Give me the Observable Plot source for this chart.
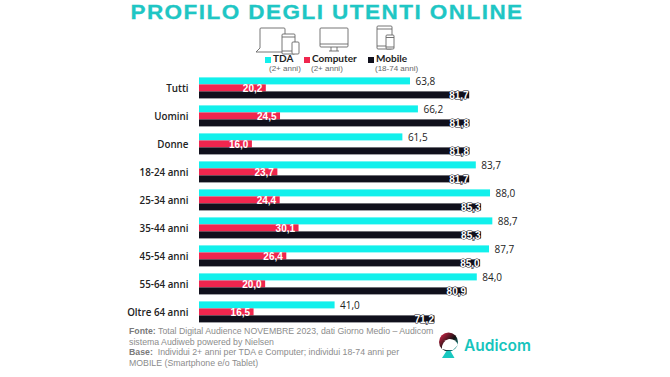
<!DOCTYPE html>
<html><head><meta charset="utf-8">
<script src="https://cdn.jsdelivr.net/npm/d3@7"></script>
<script src="https://cdn.jsdelivr.net/npm/@observablehq/plot@0.6"></script>
<style>
html,body{margin:0;padding:0;background:#fff;width:670px;height:377px;overflow:hidden}
#wrap{position:relative;width:670px;height:377px}
#wrap>*{position:absolute}
#chart{left:0;top:0}
#title{left:0;width:654px;top:1px;text-align:center;font:bold 20.5px/22px "Liberation Sans",sans-serif;letter-spacing:1.3px;color:#1fc6c4;-webkit-text-stroke:.3px #1fc6c4;white-space:nowrap;transform:scaleX(1.1)}
.lg{font:700 10px/8px "Lato",sans-serif;color:#222;white-space:nowrap}
.sw{width:6px;height:6px}
.sub{font:8px/7px "Liberation Sans",sans-serif;color:#666;white-space:nowrap}
#note{left:129px;top:326px;font:8.75px/10.6px "Liberation Sans",sans-serif;color:#8c8c8c;white-space:nowrap}
#note b{color:#7a7a7a}
#logoText{left:464px;top:336px;font:600 15.5px/20px "Inter",sans-serif;color:#16c4bd;white-space:nowrap}
</style></head><body>
<div id="wrap">
<div id="chart"></div>
<div id="title">PROFILO DEGLI UTENTI ONLINE</div>
<svg style="left:250px;top:24px" width="170" height="34" fill="none" stroke="#666" stroke-width=".9">
  <path d="M10 24V5a1 1 0 0 1 1-1h23a1 1 0 0 1 1 1v6M6 28h26M10 24l-4 4"/>
  <rect x="32" y="10" width="13" height="20" rx="1" fill="#fff"/><path d="M32 13h13M32 27h13"/>
  <rect x="42" y="18" width="7" height="12" rx="1" fill="#fff"/>
  <rect x="70" y="4" width="28" height="19" rx="1"/><path d="M70 20h28M81 23v4M87 23v4M79 27h10"/>
  <rect x="127" y="2" width="15" height="23" rx="1"/><path d="M127 5h15M127 22h9"/>
  <rect x="136" y="11" width="8" height="14" rx="1" fill="#fff"/><path d="M136 13.500h8M136 23h8"/>
</svg>
<div class="sw" style="left:265px;top:57px;background:#12f0ec"></div><div class="lg" style="left:273px;top:54px">TDA</div><div class="sub" style="left:269px;top:64.5px">(2+ anni)</div>
<div class="sw" style="left:304px;top:57px;background:#f0264e"></div><div class="lg" style="left:312px;top:54px">Computer</div><div class="sub" style="left:311px;top:64.5px">(2+ anni)</div>
<div class="sw" style="left:368px;top:57px;background:#10101c"></div><div class="lg" style="left:376px;top:54px">Mobile</div><div class="sub" style="left:375px;top:64.5px">(18-74 anni)</div>
<div id="note"><b>Fonte:</b> Total Digital Audience NOVEMBRE 2023, dati Giorno Medio – Audicom<br>sistema Audiweb powered by Nielsen<br><b>Base:</b>&nbsp; Individui 2+ anni per TDA e Computer; individui 18-74 anni per<br>MOBILE (Smartphone e/o Tablet)</div>
<svg style="left:438px;top:331px" width="22" height="28">
  <defs><linearGradient id="g" x1="0" y1="0" x2="1" y2="1"><stop offset="0" stop-color="#f0264e"/><stop offset=".55" stop-color="#111"/><stop offset="1" stop-color="#19d0c8"/></linearGradient></defs>
  <circle cx="10.500" cy="11" r="9.500" fill="url(#g)"/>
  <path d="M4 18a9 9 0 0 1 7-10a9 9 0 0 1 9 6l-5 5h-7z" fill="#fff"/>
  <path d="M8.500 20h4l4 7H4z" fill="#18c8c0"/>
</svg>
<div id="logoText">Audicom</div>
</div>
<script>
const categories = ["Tutti","Uomini","Donne","18-24 anni","25-34 anni","35-44 anni","45-54 anni","55-64 anni","Oltre 64 anni"];
const seriesNames = ["TDA","Computer","Mobile"];
const tda = [63.8,66.2,61.5,83.7,88.0,88.7,87.7,84.0,41.0];
const computer = [20.2,24.5,16.0,23.7,24.4,30.1,26.4,20.0,16.5];
const mobile = [81.7,81.8,81.8,81.7,85.3,85.3,85.0,80.9,71.2];
const colors = ["#12f0ec","#f0264e","#10101c"];
const fmt = v => v.toFixed(1).replace(".", ",");
const rows = categories.flatMap((c,i)=>[
  {c,s:"TDA",v:tda[i]},{c,s:"Computer",v:computer[i]},{c,s:"Mobile",v:mobile[i]}]);
const plot = Plot.plot({
  width:670,height:377,
  marginLeft:199,marginRight:0,marginTop:75.6,marginBottom:52.6,
  style:{background:"transparent",overflow:"visible"},
  x:{domain:[0,100],range:[199,529.7],axis:null},
  y:{domain:seriesNames,axis:null,paddingInner:0.03,paddingOuter:0},
  fy:{domain:categories,label:null,padding:0.2},
  color:{domain:seriesNames,range:colors},
  marks:[
    Plot.axisFy({anchor:"left",label:null,tickSize:0,tickPadding:11,fontSize:9.8,fontWeight:600,fontFamily:"Open Sans",fill:"#222"}),
    Plot.barX(rows,{fy:"c",y:"s",x:"v",fill:"s"}),
    Plot.text(rows.filter(d=>d.s==="TDA"),{fy:"c",y:"s",x:"v",text:d=>fmt(d.v),textAnchor:"start",dx:5,fontSize:10,fontFamily:"Open Sans",fontWeight:500,fill:"#222"}),
    Plot.text(rows.filter(d=>d.s==="Computer"),{fy:"c",y:"s",x:"v",text:d=>fmt(d.v),textAnchor:"end",dx:-4,fontSize:10,fontFamily:"Liberation Sans",fontWeight:700,fill:"#fff"}),
    Plot.text(rows.filter(d=>d.s==="Mobile"),{fy:"c",y:"s",x:"v",text:d=>fmt(d.v),textAnchor:"end",dx:-1,fontSize:10,fontFamily:"Liberation Sans",fontWeight:700,fill:"#fff",stroke:"#10101c",strokeWidth:1}),
  ]
});
document.getElementById("chart").appendChild(plot);
</script>
</body></html>
